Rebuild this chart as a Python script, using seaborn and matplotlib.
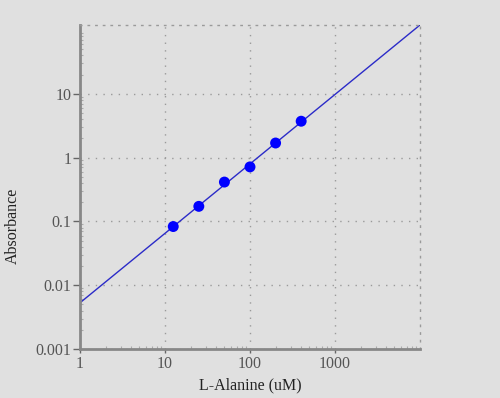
import numpy as np
import pandas as pd
import matplotlib.pyplot as plt
import seaborn as sns

# standard curve data
conc_um = [12.5, 25, 50, 100, 200, 400]
absorbance = [0.083, 0.172, 0.413, 0.714, 1.69, 3.71]

x_ticks = [1, 10, 100, 1000]
x_tick_labels = ["1", "10", "100", "1000"]
y_ticks = [0.001, 0.01, 0.1, 1, 10]
y_tick_labels = ["0.001", "0.01", "0.1", "1", "10"]

bg = "#e0e0e0"
sns.set_theme(style="white", rc={"axes.facecolor": bg, "figure.facecolor": bg})
plt.rcParams["font.family"] = ["Liberation Serif", "DejaVu Serif"]

df = pd.DataFrame({"conc": conc_um, "abs": absorbance})

# power-law fit (linear in log-log space)
slope, icpt = np.polyfit(np.log10(df["conc"]), np.log10(df["abs"]), 1)
xfit = np.logspace(0, 4, 50)
fit = pd.DataFrame({"conc": xfit, "abs": 10 ** (icpt + slope * np.log10(xfit))})

fig = plt.figure(figsize=(5, 3.98), dpi=100)
ax = fig.add_axes([0.16, 0.1231, 0.68, 0.8141])

sns.lineplot(data=fit, x="conc", y="abs", ax=ax, color="#2b2bc8", linewidth=1.0)
sns.scatterplot(data=df, x="conc", y="abs", ax=ax, color="#0000ff", s=62,
                edgecolor="none", zorder=3)

ax.set_xscale("log")
ax.set_yscale("log")
ax.set_xlim(1, 10000)
ax.set_ylim(0.001, 10 ** (icpt + slope * 4))

ax.set_xticks(x_ticks)
ax.set_xticklabels(x_tick_labels)
ax.set_yticks(y_ticks)
ax.set_yticklabels(y_tick_labels)

ax.grid(True, which="major", linestyle=(0, (1, 4.5)), color="#9a9a9a", linewidth=1)

for side in ["left", "bottom"]:
    ax.spines[side].set_color("#888888")
    ax.spines[side].set_linewidth(2)
for side in ["top", "right"]:
    ax.spines[side].set_color("#9a9a9a")
    ax.spines[side].set_linestyle((0, (1, 4.5)))
    ax.spines[side].set_linewidth(1)

ax.tick_params(axis="both", which="major", direction="out", length=5, width=1,
               color="#666666", labelcolor="#555555", labelsize=11.5, pad=1,
               left=True, bottom=True)
ax.tick_params(axis="both", which="minor", direction="in", length=2, width=0.8,
               color="#aaaaaa", left=True, bottom=True)
ax.tick_params(axis="x", which="major", length=3, pad=2)

ax.set_xlabel("L-Alanine (uM)", fontsize=11.5, color="#222222", labelpad=4)
ax.set_ylabel("Absorbance", fontsize=11.5, color="#222222")
ax.yaxis.set_label_coords(-0.174, 0.38)

fig.savefig("out.png", dpi=100, facecolor=bg)
